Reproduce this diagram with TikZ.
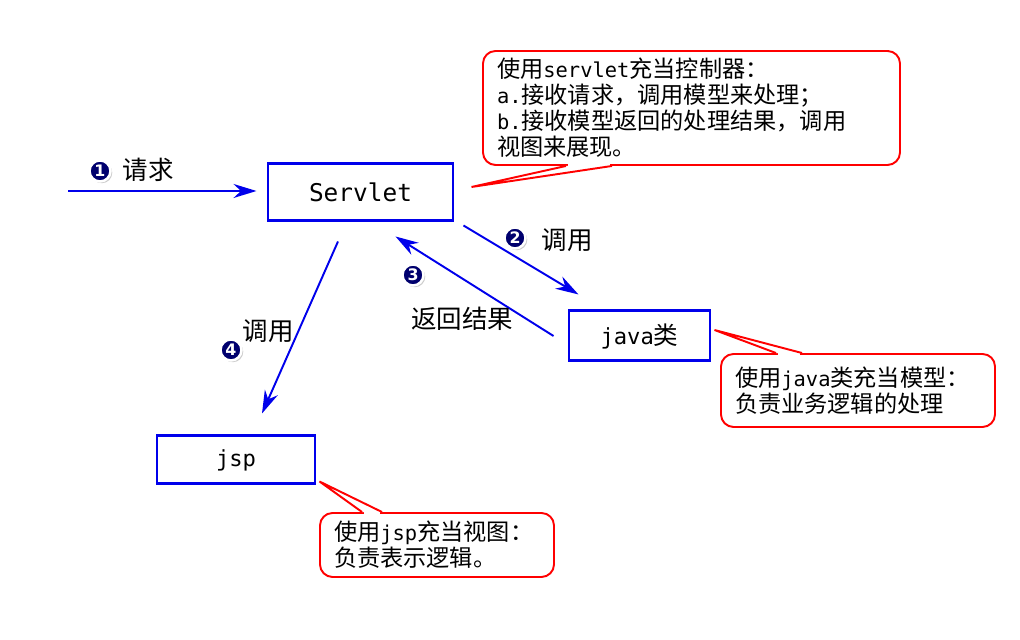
\documentclass[tikz,border=0pt]{standalone}
\usepackage{fontspec}
\setmainfont{Noto Sans CJK SC}
\newfontfamily\codefont{DejaVu Sans Mono}
\newfontfamily\calloutcode[Scale=0.88]{DejaVu Sans Mono}
\newfontfamily\numfont{DejaVu Sans}
\usetikzlibrary{arrows.meta, positioning, calc, shadows}
\definecolor{mvcblue}{RGB}{0,0,235}
\definecolor{mvcred}{RGB}{255,0,0}
\definecolor{stepnavy}{RGB}{0,0,110}
\newcommand{\jcode}[1]{{\calloutcode #1}}
\newcommand{\boxcode}[1]{{\codefont\fontsize{12.6pt}{13pt}\selectfont #1}}

\begin{document}
\begin{tikzpicture}[>=Stealth, font=\fontsize{13.2pt}{14.8pt}\selectfont,
  comp/.style={draw=mvcblue, line width=1.7pt, fill=white, inner sep=0pt,
               drop shadow={shadow xshift=0.8pt, shadow yshift=-0.8pt, opacity=0.2}},
  flow/.style={draw=mvcblue, line width=1.1pt,
               -{Stealth[length=4.6mm, width=2.8mm, inset=1.5mm]}},
  note/.style={draw=mvcred, line width=1.1pt, rounded corners=0.25cm, fill=white,
               align=left, inner xsep=0.28cm, inner ysep=0pt},
  notetail/.style={draw=mvcred, line width=1.1pt},
  num/.style={circle, fill=stepnavy, draw=white, line width=1.4pt, minimum size=0.42cm,
              inner sep=0pt, text=white,
              font=\numfont\bfseries\fontsize{9pt}{9pt}\selectfont,
              drop shadow={shadow xshift=1pt, shadow yshift=-1pt, opacity=0.4}},
  lbl/.style={font=\fontsize{14.5pt}{14.5pt}\selectfont}]

  \useasboundingbox (0,0) rectangle (20.4,12.8);

  % components
  \node[comp, minimum width=3.7cm, minimum height=1.14cm] (servlet) at (7.21,8.95)
       {\codefont\fontsize{13.9pt}{14pt}\selectfont Servlet\hspace{0.2cm}};
  \node[comp, minimum width=2.82cm, minimum height=1.0cm] (java) at (12.79,6.08)
       {\fontsize{14pt}{14pt}\selectfont\boxcode{java}类\hspace{0.3cm}};
  \node[comp, minimum width=3.16cm, minimum height=0.96cm] (jsp) at (4.72,3.6)
       {\boxcode{jsp}\hspace{0.6cm}};

  % notes
  \node[note, text width=7.78cm, minimum height=2.28cm] (ctrlnote) at (13.83,10.64)
       {使用\jcode{servlet}充当控制器：\\
        \jcode{a.}接收请求，调用模型来处理；\\
        \jcode{b.}接收模型返回的处理结果，调用\\
        视图来展现。};
  \node[note, text width=4.92cm, minimum height=1.46cm] (modelnote) at (17.16,4.99)
       {使用\jcode{java}类充当模型：\\
        负责业务逻辑的处理};
  \node[note, text width=4.12cm, minimum height=1.28cm] (viewnote) at (8.74,1.9)
       {使用\jcode{jsp}充当视图：\\
        负责表示逻辑。};

  % note tails
  \coordinate (ctrltip)  at ($(servlet.east)+(0.34,0.11)$);
  \coordinate (modeltip) at ($(java.east)+(0.06,0.12)$);
  \coordinate (viewtip)  at ($(jsp.south east)+(0.06,0.08)$);

  \fill[white] ($(ctrlnote.south west)+(1.68,0)$) -- (ctrltip) -- ($(ctrlnote.south west)+(2.6,0)$);
  \draw[white, line width=2pt] ($(ctrlnote.south west)+(1.72,0)$) -- ($(ctrlnote.south west)+(2.56,0)$);
  \draw[notetail] ($(ctrlnote.south west)+(1.68,0)$) -- (ctrltip) -- ($(ctrlnote.south west)+(2.6,0)$);

  \fill[white] ($(modelnote.north west)+(1.12,0)$) -- (modeltip) -- ($(modelnote.north west)+(1.64,0)$);
  \draw[white, line width=2pt] ($(modelnote.north west)+(1.16,0)$) -- ($(modelnote.north west)+(1.6,0)$);
  \draw[notetail] ($(modelnote.north west)+(1.12,0)$) -- (modeltip) -- ($(modelnote.north west)+(1.64,0)$);

  \fill[white] ($(viewnote.north west)+(0.86,0)$) -- (viewtip) -- ($(viewnote.north west)+(1.26,0)$);
  \draw[white, line width=2pt] ($(viewnote.north west)+(0.9,0)$) -- ($(viewnote.north west)+(1.22,0)$);
  \draw[notetail] ($(viewnote.north west)+(0.86,0)$) -- (viewtip) -- ($(viewnote.north west)+(1.26,0)$);

  % flows
  \coordinate (reqin) at (1.36,8.98);
  \draw[flow, shorten >=0.2cm] (reqin) -- (reqin -| servlet.west);
  \draw[flow] ($(servlet.south east)+(0.18,-0.06)$) -- ($(java.north west)+(0.22,0.3)$);
  \draw[flow] ($(java.west)+(-0.28,0)$) -- ($(servlet.south)+(0.7,-0.28)$);
  \draw[flow] ($(servlet.south)+(-0.45,-0.38)$) -- ($(jsp.north)+(0.52,0.42)$);

  % step numbers and labels
  \node[num] (n1) at (2.0,9.38) {1};
  \node[lbl] (req) at (2.96,9.4) {请求};
  \node[num] (n2) at (10.3,8.04) {2};
  \node[lbl] (call1) at (11.34,8.0) {调用};
  \node[num] (n3) at (8.26,7.3) {3};
  \node[lbl] (ret) at (9.24,6.42) {返回结果};
  \node[num] (n4) at (4.62,5.8) {4};
  \node[lbl] (call2) at (5.36,6.18) {调用};
\end{tikzpicture}
\end{document}
